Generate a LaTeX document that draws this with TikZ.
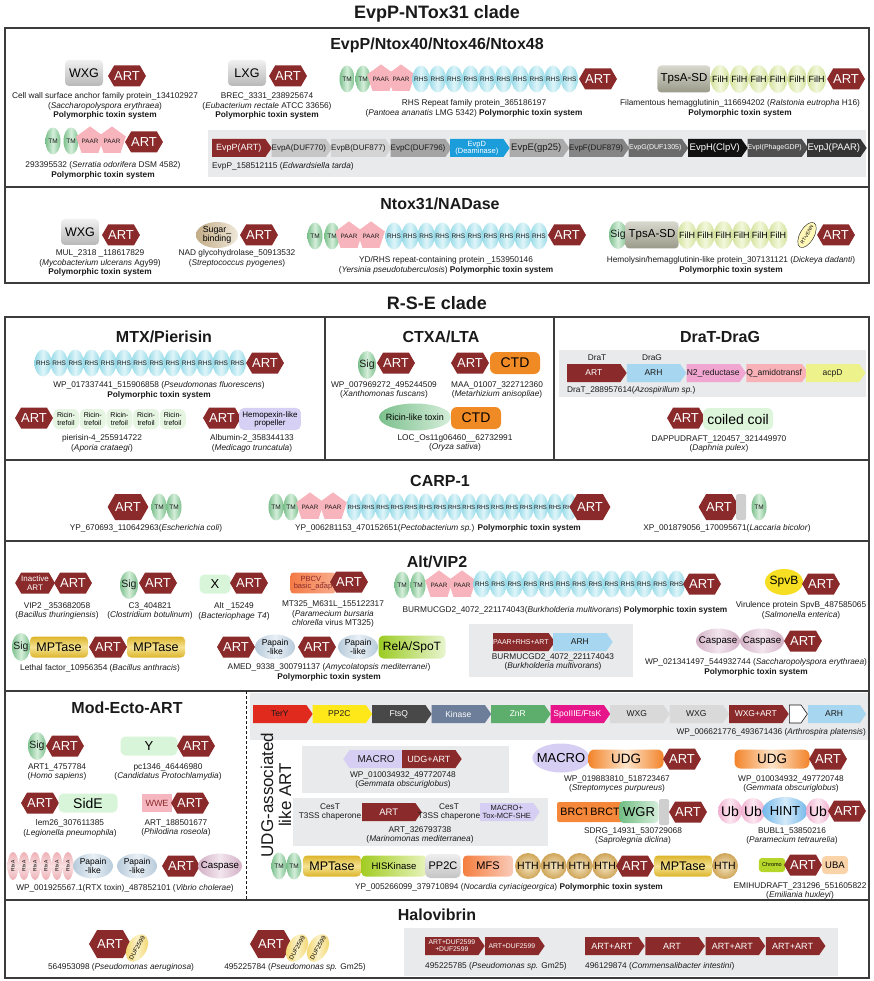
\documentclass[tikz,border=0pt]{standalone}
\usepackage{fontspec}
\setmainfont{Liberation Sans}
\usepackage{tikz}
\usetikzlibrary{shapes.geometric,shapes.symbols,shapes.misc}
\definecolor{ink}{HTML}{1A1A1A}
\definecolor{boxgray}{HTML}{3C3C3C}
\definecolor{bggray}{HTML}{E9EAEB}
\definecolor{artred}{HTML}{8A2A2B}
\definecolor{tmdark}{HTML}{7CC08D}
\definecolor{tmlight}{HTML}{D5EEDA}
\definecolor{rhsdark}{HTML}{96DAE7}
\definecolor{rhslight}{HTML}{DFF5F9}
\definecolor{paarpink}{HTML}{F8B4BC}
\definecolor{wxgdark}{HTML}{B8B8B8}
\definecolor{wxglight}{HTML}{F0F0F0}
\definecolor{filhdark}{HTML}{D3E29C}
\definecolor{filhlight}{HTML}{F2F7DC}
\definecolor{tpsdark}{HTML}{9A9A8A}
\definecolor{tpslight}{HTML}{D8D8CE}
\definecolor{sugdark}{HTML}{C2AC86}
\definecolor{suglight}{HTML}{F0E8DA}
\definecolor{vennyel}{HTML}{FFF8B8}
\definecolor{ricingrn}{HTML}{E5F5E1}
\definecolor{hemolav}{HTML}{D7D0F5}
\definecolor{ctdorange}{HTML}{F08A24}
\definecolor{coilgrn}{HTML}{DDF5DA}
\definecolor{spvbyel}{HTML}{F6DE22}
\definecolor{mptdark}{HTML}{DDB52A}
\definecolor{mptlight}{HTML}{F4E292}
\definecolor{papdark}{HTML}{B7CADA}
\definecolor{paplight}{HTML}{E9F0F6}
\definecolor{reladark}{HTML}{9BCB23}
\definecolor{relalight}{HTML}{E8F5CF}
\definecolor{casdark}{HTML}{D3B0C5}
\definecolor{caslight}{HTML}{F2E5EE}
\definecolor{palegrn}{HTML}{D9F5D9}
\definecolor{pbcvdark}{HTML}{F47A45}
\definecolor{pbcvlight}{HTML}{F8AC8C}
\definecolor{wwepink}{HTML}{F6B6BF}
\definecolor{rtxdark}{HTML}{EDB0B6}
\definecolor{rtxlight}{HTML}{F9E0E2}
\definecolor{macrolav}{HTML}{D6CEF3}
\definecolor{udgdark}{HTML}{F2842A}
\definecolor{udglight}{HTML}{FDE3C8}
\definecolor{brctor}{HTML}{F5873A}
\definecolor{wgrdark}{HTML}{72BE84}
\definecolor{wgrlight}{HTML}{D6EEDB}
\definecolor{hintdark}{HTML}{74B8EA}
\definecolor{hintlight}{HTML}{D4EAF9}
\definecolor{ubdark}{HTML}{F0AECF}
\definecolor{ublight}{HTML}{FCE8F1}
\definecolor{hiskdark}{HTML}{A2CC22}
\definecolor{hisklight}{HTML}{E8F4BD}
\definecolor{ppgdark}{HTML}{C4C4C4}
\definecolor{ppglight}{HTML}{EEEEEE}
\definecolor{mfsdark}{HTML}{F57E3F}
\definecolor{mfslight}{HTML}{F9CBB9}
\definecolor{hthdark}{HTML}{CFA558}
\definecolor{hthlight}{HTML}{F4E5C2}
\definecolor{chromogrn}{HTML}{B6D62A}
\definecolor{ubapeach}{HTML}{FBD3A8}
\definecolor{dufdark}{HTML}{F2D469}
\definecolor{duflight}{HTML}{FBF1C6}
\definecolor{barg}{HTML}{CFCFCF}
% gene arrow fills
\definecolor{evpa}{HTML}{C6C6C6}
\definecolor{evpb}{HTML}{D4D4D4}
\definecolor{evpc}{HTML}{A4A4A4}
\definecolor{evpd}{HTML}{1B9DDB}
\definecolor{evpe}{HTML}{ABABAB}
\definecolor{evpf}{HTML}{858585}
\definecolor{evpg}{HTML}{6B6B6B}
\definecolor{evph}{HTML}{111111}
\definecolor{evpi}{HTML}{4F4F4F}
\definecolor{evpj}{HTML}{343434}
\definecolor{arhblue}{HTML}{A7D7F0}
\definecolor{n2red}{HTML}{F1A5D1}
\definecolor{qamid}{HTML}{F8B1B7}
\definecolor{acpdyel}{HTML}{EEF28A}
\definecolor{tery}{HTML}{E02A1E}
\definecolor{pptwo}{HTML}{FFE81A}
\definecolor{ftsq}{HTML}{484848}
\definecolor{kinase}{HTML}{6C7E99}
\definecolor{znr}{HTML}{5DAE6D}
\definecolor{spoiii}{HTML}{E6168A}
\definecolor{wxgg}{HTML}{D9D9D9}
\tikzset{
  clade/.style={font=\fontsize{18}{20}\selectfont\bfseries,text=ink},
  sect/.style={font=\fontsize{16}{18}\selectfont\bfseries,text=ink},
  capt/.style={font=\fontsize{8.3}{9.8}\selectfont,align=center,text=ink,inner sep=0pt},
  lbl/.style={font=\fontsize{8.3}{9}\selectfont,text=ink,inner sep=0pt},
  boxline/.style={draw=boxgray,line width=1.2pt},
  udgline/.style={draw=ink,densely dashed,line width=0.5pt},
  art/.style={signal,signal to=east and west,signal pointer angle=120,
              fill=artred,text=white,inner sep=0pt,
              minimum width=36pt,minimum height=21pt,
              font=\fontsize{13}{13}\selectfont},
  gene/.style={signal,signal to=east,signal pointer angle=110,inner sep=0pt,
               minimum width=59.5pt,minimum height=18pt,text=ink,align=center,
               anchor=west,font=\fontsize{8.5}{8.5}\selectfont},
  tm/.style={ellipse,inner sep=-3pt,minimum width=15pt,minimum height=27pt,
             left color=tmdark,right color=tmdark,middle color=tmlight,
             font=\fontsize{6.5}{6.5}\selectfont,text=ink},
  sig/.style={tm,minimum width=18pt,minimum height=28pt,
              font=\fontsize{10.5}{10.5}\selectfont},
  rhs/.style={ellipse,inner sep=-3pt,minimum width=17pt,minimum height=27pt,
              left color=rhsdark,right color=rhsdark,middle color=rhslight,
              font=\fontsize{6.5}{6.5}\selectfont,text=ink},
  paar/.style={regular polygon,regular polygon sides=5,minimum size=25pt,
               inner sep=0pt,fill=paarpink,font=\fontsize{6.3}{6.3}\selectfont,text=ink},
  wxg/.style={rounded corners=4pt,minimum width=38pt,minimum height=26pt,
              top color=wxglight,bottom color=wxgdark,
              font=\fontsize{12.5}{12.5}\selectfont},
  tpsa/.style={rounded corners=4pt,minimum width=52pt,minimum height=27pt,
               top color=tpslight,bottom color=tpsdark,
               font=\fontsize{11.5}{11.5}\selectfont},
  filh/.style={ellipse,inner sep=-3pt,minimum width=19pt,minimum height=28pt,
               left color=filhdark,right color=filhdark,middle color=filhlight,
               font=\fontsize{9}{9}\selectfont},
  sugar/.style={ellipse,inner sep=-3pt,minimum width=42pt,minimum height=26pt,
                left color=sugdark,right color=suglight,align=center,
                font=\fontsize{8.8}{9.5}\selectfont},
  venn/.style={ellipse,draw=ink,line width=0.4pt,fill=vennyel,inner sep=-2pt,
               minimum width=28pt,minimum height=14pt,
               font=\fontsize{4.8}{4.8}\selectfont},
  ricin/.style={rounded corners=6pt,fill=ricingrn,minimum width=26pt,
                minimum height=20pt,align=center,font=\fontsize{7}{7.5}\selectfont},
  hemo/.style={rounded corners=5pt,fill=hemolav,minimum width=58pt,
               minimum height=17pt,align=center,font=\fontsize{8}{8}\selectfont},
  ctd/.style={rounded corners=6pt,fill=ctdorange,minimum width=50pt,
              minimum height=22pt,font=\fontsize{14}{14}\selectfont},
  ricinl/.style={ellipse,inner sep=-8pt,minimum width=72pt,minimum height=27pt,
                 left color=tmdark,right color=tmlight,font=\fontsize{9}{9}\selectfont},
  coil/.style={rounded corners=6pt,fill=coilgrn,minimum width=70pt,
               minimum height=22pt,font=\fontsize{14}{14}\selectfont},
  grbar/.style={rounded corners=1.5pt,fill=barg,minimum width=10pt,minimum height=26pt},
  xbox/.style={rounded corners=5pt,fill=palegrn,minimum width=31pt,
               minimum height=19pt,font=\fontsize{13}{13}\selectfont},
  pbcv/.style={rounded corners=3pt,left color=pbcvdark,right color=pbcvlight,
               minimum width=40pt,minimum height=20pt,align=center,text=artred,
               font=\fontsize{7.5}{7.5}\selectfont},
  spvb/.style={ellipse,fill=spvbyel,inner sep=-4pt,minimum width=38pt,
               minimum height=26pt,font=\fontsize{12}{12}\selectfont},
  mptase/.style={rounded corners=4pt,top color=mptdark,bottom color=mptdark,
                 middle color=mptlight,minimum width=58pt,minimum height=21pt,
                 font=\fontsize{12.5}{12.5}\selectfont},
  papain/.style={ellipse,inner sep=-3pt,minimum width=40pt,minimum height=25pt,
                 left color=papdark,right color=papdark,middle color=paplight,
                 align=center,font=\fontsize{8.5}{9}\selectfont},
  rela/.style={rounded corners=5pt,left color=reladark,right color=relalight,
               minimum width=67pt,minimum height=23pt,font=\fontsize{12}{12}\selectfont},
  caspase/.style={ellipse,inner sep=-4pt,minimum width=44pt,minimum height=25pt,
                  left color=casdark,right color=casdark,middle color=caslight,
                  font=\fontsize{9.7}{9.7}\selectfont},
  ybox/.style={rounded corners=5pt,fill=palegrn,minimum width=57pt,
               minimum height=19pt,font=\fontsize{13}{13}\selectfont},
  wwe/.style={fill=wwepink,minimum width=29pt,minimum height=18pt,text=artred,
              font=\fontsize{9}{9}\selectfont},
  rtxa/.style={ellipse,inner sep=-3pt,minimum width=28pt,minimum height=11pt,
               rotate=90,top color=rtxdark,bottom color=rtxdark,middle color=rtxlight,
               font=\fontsize{5}{5}\selectfont},
  udgtxt/.style={font=\fontsize{17}{18}\selectfont,align=center,text=ink},
  macroe/.style={ellipse,inner sep=-4pt,fill=macrolav,minimum width=55pt,
                 minimum height=29pt,font=\fontsize{13}{13}\selectfont},
  udg/.style={rounded corners=6pt,left color=udgdark,right color=udgdark,
              middle color=udglight,minimum width=75pt,minimum height=19pt,
              font=\fontsize{13.5}{13.5}\selectfont},
  brct/.style={rounded corners=2pt,fill=brctor,minimum width=30pt,
               minimum height=20pt,font=\fontsize{10.7}{10.7}\selectfont},
  wgr/.style={rounded corners=4pt,left color=wgrdark,right color=wgrlight,
              minimum width=39pt,minimum height=22pt,font=\fontsize{13}{13}\selectfont},
  ub/.style={ellipse,inner sep=-4pt,minimum width=24pt,minimum height=26pt,
             left color=ubdark,right color=ubdark,middle color=ublight,
             font=\fontsize{14}{14}\selectfont},
  hint/.style={ellipse,inner sep=-5pt,minimum width=45pt,minimum height=28pt,
               left color=hintdark,right color=hintdark,middle color=hintlight,
               font=\fontsize{13}{13}\selectfont},
  hisk/.style={rounded corners=4pt,left color=hiskdark,right color=hisklight,
               minimum width=65pt,minimum height=21pt,font=\fontsize{9.5}{9.5}\selectfont},
  ppg/.style={rounded corners=5pt,top color=ppglight,bottom color=ppgdark,
              minimum width=33pt,minimum height=24pt,font=\fontsize{11}{11}\selectfont},
  mfs/.style={rounded corners=4pt,left color=mfsdark,right color=mfslight,
              minimum width=50pt,minimum height=21pt,font=\fontsize{11}{11}\selectfont},
  hth/.style={circle,inner sep=-4pt,minimum size=26pt,
              inner color=hthlight,outer color=hthdark,
              font=\fontsize{10.5}{10.5}\selectfont},
  chromo/.style={rounded corners=3pt,fill=chromogrn,minimum width=25pt,
                 minimum height=14pt,font=\fontsize{5.5}{5.5}\selectfont},
  uba/.style={rounded corners=4pt,fill=ubapeach,minimum width=25pt,
              minimum height=18pt,font=\fontsize{9.5}{9.5}\selectfont},
  duf/.style={ellipse,inner sep=-3pt,minimum width=30pt,minimum height=19pt,
              rotate=60,left color=dufdark,right color=dufdark,middle color=duflight,
              font=\fontsize{6}{6}\selectfont},
}
\begin{document}
\begin{tikzpicture}[x=1pt,y=-1pt]
\useasboundingbox (0,0) rectangle (874,981);
% frames
\node[clade] (clade1) at (437,14) {EvpP-NTox31 clade};
\draw[boxline] (5,28) rectangle (869,187);
\draw[boxline] (5,187) rectangle (869,283);
\node[clade] (clade2) at (437,303) {R-S-E clade};
\draw[boxline] (5,317) rectangle (869,978);
\draw[boxline] (325,317) -- (325,460);
\draw[boxline] (554,317) -- (554,460);
\foreach \yy in {460,541,691,900}
  \draw[boxline] (5,\yy) -- (869,\yy);
\draw[udgline] (246,691) -- (246,900);
% gray backgrounds
\fill[bggray] (208,130) rectangle (866,177);
\fill[bggray] (559,350) rectangle (866,397);
\fill[bggray] (469,624) rectangle (633,677);
\fill[bggray] (250,693) rectangle (868,740);
\fill[bggray] (302,746) rectangle (509,793);
\fill[bggray] (293,798) rectangle (548,846);
\fill[bggray] (404,928) rectangle (838,976);

% EvpP/Ntox40/Ntox46/Ntox48
\node[sect] (sec1) at (437,45) {EvpP/Ntox40/Ntox46/Ntox48};
\node[wxg] (wxg1) at (84,73) {WXG};
\node[art] (art1) at (127,76) {ART};
\node[capt] (cap1) at (105,106) {Cell wall surface anchor family protein\_134102927\\
  (\textit{Saccharopolyspora erythraea})\\\textbf{Polymorphic toxin system}};
\node[wxg] (lxg1) at (247,73) {LXG};
\node[art] (art2) at (288,76) {ART};
\node[capt] (cap2) at (267,106) {BREC\_3331\_238925674\\
  (\textit{Eubacterium rectale} ATCC 33656)\\\textbf{Polymorphic toxin system}};
\node[tm] (tma1) at (347,79) {TM};
\node[tm] (tma2) at (363,79) {TM};
\node[paar] (paa1) at (381,79) {PAAR};
\node[paar] (paa2) at (401,79) {PAAR};
\foreach \k in {0,...,9}
  \node[rhs] (rha\k) at (421+16.5*\k,79) {RHS};
\node[art] (art3) at (598,79) {ART};
\node[capt] (cap3) at (474,108) {RHS Repeat family protein\_365186197\\
  (\textit{Pantoea ananatis} LMG 5342) \textbf{Polymorphic toxin system}};
\node[tpsa] (tps1) at (684,79) {TpsA-SD};
\foreach \k in {0,...,5}
  \node[filh] (fla\k) at (720+19.3*\k,79) {FilH};
\node[art] (art4) at (846,79) {ART};
\node[capt] (cap4) at (740,108) {Filamentous hemagglutinin\_116694202
  (\textit{Ralstonia eutropha} H16)\\\textbf{Polymorphic toxin system}};
\node[tm] (tmb1) at (53,141) {TM};
\node[tm] (tmb2) at (71,141) {TM};
\node[paar] (pab1) at (90,141) {PAAR};
\node[paar] (pab2) at (112,141) {PAAR};
\node[art] (art5) at (144,142) {ART};
\node[capt] (cap5) at (103,170) {293395532 (\textit{Serratia odorifera} DSM 4582)\\
  \textbf{Polymorphic toxin system}};
\foreach \t/\c/\f/\s [count=\i from 0] in {
  EvpP(ART)/artred/white/9, EvpA(DUF770)/evpa/ink/8, EvpB(DUF877)/evpb/ink/8,
  EvpC(DUF796)/evpc/ink/8, EvpD\\(Deaminase)/evpd/white/7.5, EvpE(gp25)/evpe/ink/9.5,
  EvpF(DUF879)/evpf/ink/8, EvpG(DUF1305)/evpg/white/7, EvpH(ClpV)/evph/white/9.5,
  EvpI(PhageGDP)/evpi/white/7, EvpJ(PAAR)/evpj/white/9.5%
}{
  \node[gene,fill=\c,text=\f,font=\fontsize{\s}{\s}\selectfont]
    (evp\i) at (212+59.5*\i,148) {\t};
}
\node[capt,anchor=west] (evplab) at (212,166) {EvpP\_158512115 (\textit{Edwardsiella tarda})};

% Ntox31/NADase
\node[sect] (sec2) at (440,204) {Ntox31/NADase};
\node[wxg] (wxg2) at (80,232) {WXG};
\node[art] (art6) at (121,235) {ART};
\node[capt] (cap6) at (100,263) {MUL\_2318 \_118617829\\
  (\textit{Mycobacterium ulcerans} Agy99)\\\textbf{Polymorphic toxin system}};
\node[sugar] (sug1) at (217,235) {Sugar\_\\binding};
\node[art] (art7) at (259,235) {ART};
\node[capt] (cap7) at (237,258) {NAD glycohydrolase\_50913532\\(\textit{Streptococcus pyogenes})};
\node[tm] (tmc1) at (315,236) {TM};
\node[tm] (tmc2) at (332,236) {TM};
\node[paar] (pac1) at (349,236) {PAAR};
\node[paar] (pac2) at (371,236) {PAAR};
\foreach \k in {0,...,9}
  \node[rhs] (rhc\k) at (394+16.1*\k,236) {RHS};
\node[art] (art8) at (567,235) {ART};
\node[capt] (cap8) at (446,265) {YD/RHS repeat-containing protein \_153950146\\
  (\textit{Yersinia pseudotuberculosis}) \textbf{Polymorphic toxin system}};
\node[sig] (sig1) at (618,235) {Sig};
\node[tpsa] (tps2) at (652,235) {TpsA-SD};
\foreach \k in {0,...,5}
  \node[filh] (flb\k) at (687+18.2*\k,235) {FilH};
\node[venn,rotate=60] (venn1) at (807,235) {RT-VENN};
\node[art] (art9) at (836,235) {ART};
\node[capt] (cap9) at (731,265) {Hemolysin/hemagglutinin-like protein\_307131121
  (\textit{Dickeya dadanti})\\\textbf{Polymorphic toxin system}};

% MTX/Pierisin
\node[sect] (sec3) at (164,337) {MTX/Pierisin};
\foreach \k in {0,...,12}
  \node[rhs] (rhd\k) at (43+16.2*\k,363) {RHS};
\node[art] (art10) at (265,363) {ART};
\node[capt] (cap10) at (159,390) {WP\_017337441\_515906858 (\textit{Pseudomonas fluorescens})\\
  \textbf{Polymorphic toxin system}};
\node[art] (art11) at (34,418) {ART};
\foreach \k in {0,...,4}
  \node[ricin] (ric\k) at (66+26.7*\k,419) {Ricin-\\trefoil};
\node[capt] (cap11) at (102,443) {pierisin-4\_255914722\\(\textit{Aporia crataegi})};
\node[art] (art12) at (222,418) {ART};
\node[hemo] (hemo1) at (270,419) {Hemopexin-like\\propeller};
\node[capt] (cap12) at (252,443) {Albumin-2\_358344133\\(\textit{Medicago truncatula})};

% CTXA/LTA
\node[sect] (sec4) at (441,337) {CTXA/LTA};
\node[sig] (sig2) at (367,365) {Sig};
\node[art] (art13) at (396,363) {ART};
\node[capt] (cap13) at (384,390) {WP\_007969272\_495244509\\(\textit{Xanthomonas fuscans})};
\node[art] (art14) at (470,363) {ART};
\node[ctd] (ctd1) at (515,363) {CTD};
\node[capt] (cap14) at (497,390) {MAA\_01007\_322712360\\(\textit{Metarhizium anisopliae})};
\node[ricinl] (rlt1) at (415,417) {Ricin-like toxin};
\node[ctd] (ctd2) at (476,418) {CTD};
\node[capt] (cap15) at (455,443) {LOC\_Os11g06460\_\_62732991\\(\textit{Oryza sativa})};

% DraT-DraG
\node[sect] (sec5) at (720,337) {DraT-DraG};
\foreach \t/\c/\f [count=\i from 0] in {
  ART/artred/white, ARH/arhblue/ink, N2\_reductase/n2red/ink,
  Q\_amidotransf/qamid/ink, acpD/acpdyel/ink%
}{
  \node[gene,fill=\c,text=\f] (dra\i) at (567+59.7*\i,373) {\t};
}
\node[lbl] (dratl) at (597,358) {DraT};
\node[lbl] (dragl) at (652,358) {DraG};
\node[capt,anchor=west] (dralab) at (567,390) {DraT\_288957614(\textit{Azospirillum sp.})};
\node[art] (art15) at (686,418) {ART};
\node[coil] (coil1) at (738,419) {coiled coil};
\node[capt] (cap16) at (719,444) {DAPPUDRAFT\_120457\_321449970\\(\textit{Daphnia pulex})};

% CARP-1
\node[sect] (sec6) at (440,481) {CARP-1};
\node[art,minimum height=26pt] (art16) at (128,507) {ART};
\node[tm] (tmd1) at (159,507) {TM};
\node[tm] (tmd2) at (174,507) {TM};
\node[capt] (cap17) at (146,528) {YP\_670693\_110642963(\textit{Escherichia coli})};
\node[tm] (tme1) at (276,507) {TM};
\node[tm] (tme2) at (291,507) {TM};
\node[paar] (pae1) at (310,507) {PAAR};
\node[paar] (pae2) at (333,507) {PAAR};
\foreach \k in {0,...,15}
  \node[rhs,minimum width=15pt,font=\fontsize{6}{6}\selectfont] (rhe\k) at (354+14.35*\k,507) {RHS};
\node[art,minimum height=26pt] (art17) at (590,507) {ART};
\node[capt] (cap18) at (438,528) {YP\_006281153\_470152651(\textit{Pectobacterium sp.})
  \textbf{Polymorphic toxin system}};
\node[art,minimum height=26pt] (art18) at (719,507) {ART};
\node[grbar] (bar1) at (741,507) {};
\node[tm] (tmf1) at (759,507) {TM};
\node[capt] (cap19) at (727,528) {XP\_001879056\_170095671(\textit{Laccaria bicolor})};

% Alt/VIP2
\node[sect] (sec7) at (437,562) {Alt/VIP2};
\node[art,align=center,font=\fontsize{8}{8.5}\selectfont] (iart) at (35,583) {Inactive\\ART};
\node[art] (art19) at (73,583) {ART};
\node[capt] (cap20) at (57,611) {VIP2 \_353682058\\(\textit{Bacillus thuringiensis})};
\node[sig] (sig3) at (129,585) {Sig};
\node[art] (art20) at (158,583) {ART};
\node[capt] (cap21) at (150,611) {C3\_404821\\(\textit{Clostridium botulinum})};
\node[xbox] (xb1) at (215,584) {X};
\node[art] (art21) at (249,583) {ART};
\node[capt] (cap22) at (234,611) {Alt \_15249\\(\textit{Bacteriophage T4})};
\node[pbcv] (pbcv1) at (313,583) {PBCV\_\\basic\_adap};
\node[art] (art22) at (349,582) {ART};
\node[capt] (cap23) at (333,614) {MT325\_M631L\_155122317\\(\textit{Paramecium bursaria}\\
  \textit{chlorella} virus MT325)};
\node[tm] (tmg1) at (402,585) {TM};
\node[tm] (tmg2) at (418,585) {TM};
\node[paar] (pag1) at (439,585) {PAAR};
\node[paar] (pag2) at (462,585) {PAAR};
\foreach \k in {0,...,12}
  \node[rhs] (rhg\k) at (482+16.2*\k,584) {RHS};
\node[art] (art23) at (702,584) {ART};
\node[capt] (cap24) at (565,610) {BURMUCGD2\_4072\_221174043(\textit{Burkholderia multivorans})
  \textbf{Polymorphic toxin system}};
\node[spvb] (spvb1) at (784,582) {SpvB};
\node[art] (art24) at (821,584) {ART};
\node[capt] (cap25) at (801,610) {Virulence protein SpvB\_487585065\\(\textit{Salmonella enterica})};
\node[sig] (sig4) at (21,647) {Sig};
\node[mptase] (mpt1) at (59,647) {MPTase};
\node[art] (art25) at (108,647) {ART};
\node[mptase] (mpt2) at (156,647) {MPTase};
\node[capt] (cap26) at (100,668) {Lethal factor\_10956354 (\textit{Bacillus anthracis})};
\node[art] (art26) at (236,647) {ART};
\node[papain] (pap1) at (275,647) {Papain\\-like};
\node[art] (art27) at (317,647) {ART};
\node[papain] (pap2) at (358,647) {Papain\\-like};
\node[rela] (rela1) at (412,647) {RelA/SpoT};
\node[capt] (cap27) at (329,672) {AMED\_9338\_300791137 (\textit{Amycolatopsis mediterranei})\\
  \textbf{Polymorphic toxin system}};
\node[gene,fill=artred,text=white,font=\fontsize{7}{7}\selectfont] (bur1) at (493,642) {PAAR+RHS+ART};
\node[gene,fill=arhblue] (bur2) at (553,642) {ARH};
\node[capt] (cap28) at (553,662) {BURMUCGD2\_4072\_221174043\\(\textit{Burkholderia multivorans})};
\node[caspase] (cas1) at (718,641) {Caspase};
\node[caspase] (cas2) at (762,641) {Caspase};
\node[art] (art28) at (803,641) {ART};
\node[capt] (cap29) at (756,667) {WP\_021341497\_544932744 (\textit{Saccharopolyspora erythraea})\\
  \textbf{Polymorphic toxin system}};

% Mod-Ecto-ART
\node[sect] (sec8) at (127,708) {Mod-Ecto-ART};
\node[sig] (sig5) at (37,746) {Sig};
\node[art] (art29) at (65,746) {ART};
\node[capt] (cap30) at (57,772) {ART1\_4757784\\(\textit{Homo sapiens})};
\node[ybox] (yb1) at (149,746) {Y};
\node[art] (art30) at (196,746) {ART};
\node[capt] (cap31) at (168,772) {pc1346\_46446980\\(\textit{Candidatus Protochlamydia})};
\node[art] (art31) at (40,803) {ART};
\node[ybox,minimum width=59pt,font=\fontsize{14}{14}\selectfont] (side1) at (88,803) {SidE};
\node[capt] (cap32) at (70,828) {lem26\_307611385\\(\textit{Legionella pneumophila})};
\node[wwe] (wwe1) at (157,803) {WWE};
\node[art] (art32) at (190,803) {ART};
\node[capt] (cap33) at (176,828) {ART\_188501677\\(\textit{Philodina roseola})};
\foreach \k in {0,...,5}
  \node[rtxa] (rtx\k) at (13+11*\k,866) {RtxA};
\node[papain] (pap3) at (93,866) {Papain\\-like};
\node[papain] (pap4) at (137,866) {Papain\\-like};
\node[art] (art33) at (181,866) {ART};
\node[caspase] (cas3) at (220,866) {Caspase};
\node[capt] (cap34) at (125,888) {WP\_001925567.1(RTX toxin)\_487852101 (\textit{Vibrio cholerae})};

% UDG-associated like ART
\node[udgtxt,rotate=90] (udgt) at (276,795) {UDG-associated\\like ART};
\foreach \t/\c/\f [count=\i from 0] in {
  TerY/tery/ink, PP2C/pptwo/ink, FtsQ/ftsq/white, Kinase/kinase/white,
  ZnR/znr/white, SpoIIIE\slash FtsK/spoiii/white, WXG/wxgg/ink, WXG/wxgg/ink,
  WXG+ART/artred/white%
}{
  \node[gene,fill=\c,text=\f] (ter\i) at (253+59.5*\i,714) {\t};
}
\node[gene,fill=white,draw=ink,line width=0.6pt,minimum width=18pt] (ter9) at (789,714) {};
\node[gene,fill=arhblue,minimum width=58pt] (ter10) at (808,714) {ARH};
\node[capt,anchor=east] (terlab) at (866,732) {WP\_006621776\_493671436 (\textit{Arthrospira platensis})};
\node[gene,signal to=west,fill=macrolav,font=\fontsize{10}{10}\selectfont] (mac1) at (343,759) {MACRO};
\node[gene,fill=artred,text=white,font=\fontsize{9}{9}\selectfont] (uart1) at (402,759) {UDG+ART};
\node[capt] (cap35) at (403,780) {WP\_010034932\_497720748\\(\textit{Gemmata obscuriglobus})};
\node[capt] (ces1) at (330,812) {CesT\\T3SS chaperone};
\node[gene,fill=artred,text=white,font=\fontsize{9.5}{9.5}\selectfont] (uart2) at (362,812) {ART};
\node[capt] (ces2) at (449,812) {CesT\\T3SS chaperone};
\node[gene,fill=macrolav,font=\fontsize{7.5}{8}\selectfont] (mac2) at (480,812) {MACRO+\\Tox-MCF-SHE};
\node[capt] (cap36) at (420,835) {ART\_326793738\\(\textit{Marinomonas mediterranea})};
\node[macroe] (mac3) at (561,758) {MACRO};
\node[udg] (udg1) at (626,759) {UDG};
\node[art] (art34) at (682,759) {ART};
\node[capt] (cap37) at (617,784) {WP\_019883810\_518723467\\(\textit{Streptomyces purpureus})};
\node[udg] (udg2) at (772,759) {UDG};
\node[art] (art35) at (828,759) {ART};
\node[capt] (cap38) at (791,784) {WP\_010034932\_497720748\\(\textit{Gemmata obscuriglobus})};
\node[brct] (brc1) at (575,812) {BRCT};
\node[brct] (brc2) at (605,812) {BRCT};
\node[wgr] (wgr1) at (639,812) {WGR};
\node[grbar] (bar2) at (664,812) {};
\node[art] (art36) at (688,812) {ART};
\node[capt] (cap39) at (633,836) {SDRG\_14931\_530729068\\(\textit{Saprolegnia diclina})};
\node[ub] (ub1) at (730,811) {Ub};
\node[ub] (ub2) at (753,811) {Ub};
\node[hint] (hint1) at (785,811) {HINT};
\node[ub] (ub3) at (818,811) {Ub};
\node[art] (art37) at (847,811) {ART};
\node[capt] (cap40) at (792,836) {BUBL1\_53850216\\(\textit{Paramecium tetraurelia})};
\node[tm] (tmh1) at (279,866) {TM};
\node[tm] (tmh2) at (294,866) {TM};
\node[mptase] (mpt3) at (332,866) {MPTase};
\node[hisk] (hisk1) at (394,866) {HISKinase};
\node[ppg] (ppg1) at (443,866) {PP2C};
\node[mfs] (mfs1) at (488,866) {MFS};
\foreach \k in {0,...,3}
  \node[hth] (hth\k) at (528+25.7*\k,866) {HTH};
\node[art] (art38) at (635,866) {ART};
\node[mptase] (mpt4) at (683,866) {MPTase};
\node[hth] (hth4) at (725,866) {HTH};
\node[capt] (cap41) at (509,887) {YP\_005266099\_379710894 (\textit{Nocardia cyriacigeorgica})
  \textbf{Polymorphic toxin system}};
\node[chromo] (chr1) at (772,865) {Chromo};
\node[art] (art39) at (803,865) {ART};
\node[uba] (uba1) at (835,865) {UBA};
\node[capt] (cap42) at (800,891) {EMIHUDRAFT\_231296\_551605822\\(\textit{Emiliania huxleyi})};

% Halovibrin
\node[sect] (sec9) at (437,915) {Halovibrin};
\node[art,minimum height=28pt,minimum width=34pt] (art40) at (110,944) {ART};
\node[duf] (duf1) at (137,948) {DUF2599};
\node[capt] (cap43) at (121,967) {564953098 (\textit{Pseudomonas aeruginosa})};
\node[art,minimum height=28pt,minimum width=34pt] (art41) at (271,944) {ART};
\node[duf] (duf2) at (297,948) {DUF2599};
\node[duf] (duf3) at (318,948) {DUF2599};
\node[capt] (cap44) at (295,967) {495225784 (\textit{Pseudomonas sp.} Gm25)};
\node[gene,fill=artred,text=white,font=\fontsize{6.8}{7.2}\selectfont] (hv1) at (425,946) {ART+DUF2599\\+DUF2599};
\node[gene,fill=artred,text=white,font=\fontsize{6.8}{7}\selectfont] (hv2) at (485,946) {ART+DUF2599};
\node[capt,anchor=west] (cap45) at (425,966) {495225785 (\textit{Pseudomonas sp.} Gm25)};
\foreach \t [count=\i from 0] in {ART+ART,ART,ART+ART,ART+ART}
  \node[gene,fill=artred,text=white,font=\fontsize{9}{9}\selectfont] (hw\i) at (585+60.25*\i,946) {\t};
\node[capt,anchor=west] (cap46) at (585,966) {496129874 (\textit{Commensalibacter intestini})};
\end{tikzpicture}
\end{document}
